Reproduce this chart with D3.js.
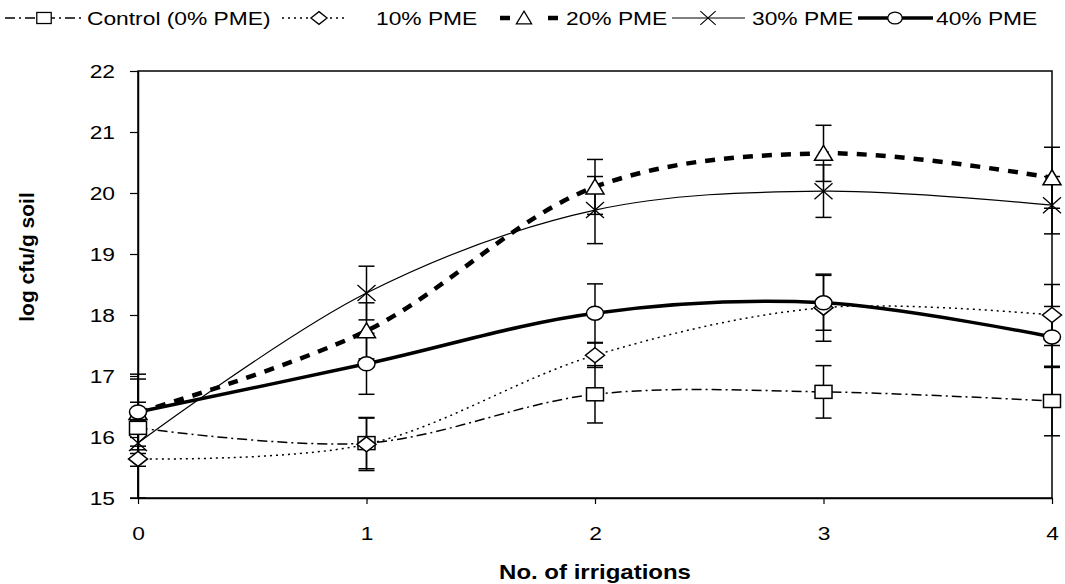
<!DOCTYPE html>
<html>
<head>
<meta charset="utf-8">
<script src="https://cdn.jsdelivr.net/npm/d3@7"></script>
<style>
  body { margin: 0; background: #fff; }
  text { font-family: "Liberation Sans", Arial, sans-serif; fill: #000; }
</style>
</head>
<body>
<svg></svg>
<script>
// x: number of irrigations
// y: log cfu/g soil

const irrigations = [0, 1, 2, 3, 4];
const yTicks = [15, 16, 17, 18, 19, 20, 21, 22];

const control = [16.15, 15.9, 16.7, 16.74, 16.59];
const controlErr = [0.42, 0.42, 0.47, 0.43, 0.57];
const pme10 = [15.64, 15.88, 17.34, 18.12, 18.0];
const pme10Err = [0.64, 0.43, 0.2, 0.55, 0.5];
const pme20 = [16.4, 17.74, 20.1, 20.65, 20.25];
const pme20Err = [0.55, 0.46, 0.45, 0.46, 0.5];
const pme30 = [15.9, 18.36, 19.72, 20.03, 19.8];
const pme30Err = [0.38, 0.44, 0.55, 0.43, 0.47];
const pme40 = [16.41, 17.2, 18.03, 18.2, 17.64];
const pme40Err = [0.62, 0.5, 0.48, 0.45, 0.5];

const seriesNames = ["Control (0% PME)", "10% PME", "20% PME", "30% PME", "40% PME"];

const width = 1065;
const height = 584;
const plotLeft = 138, plotRight = 1052, plotTop = 71, plotBottom = 498;
const sx = 1.2; // the picture is stretched sideways

const styles = [
  { vals: control, err: controlErr, width: 1.5, dash: "10,4,2,4", marker: "square" },
  { vals: pme10, err: pme10Err, width: 1.5, dash: "2,4", marker: "diamond" },
  { vals: pme20, err: pme20Err, width: 4.5, dash: "10,9", marker: "triangle" },
  { vals: pme30, err: pme30Err, width: 1.2, dash: null, marker: "cross" },
  { vals: pme40, err: pme40Err, width: 3.5, dash: null, marker: "circle" }
];

// Scales
const xScale = d3.scaleLinear().domain([0, 4]).range([plotLeft, plotRight]);
const yScale = d3.scaleLinear().domain([15, 22]).range([plotBottom, plotTop]);

const svg = d3.select("svg")
    .attr("width", width)
    .attr("height", height);

// plot frame
svg.append("rect")
    .attr("x", plotLeft).attr("y", plotTop)
    .attr("width", plotRight - plotLeft).attr("height", plotBottom - plotTop)
    .attr("fill", "none").attr("stroke", "#000").attr("stroke-width", 1.5);

// Axes
const xAxis = d3.axisBottom(xScale).tickValues(irrigations).tickFormat(d3.format("d"))
    .tickSize(6).tickSizeOuter(0);
const yAxis = d3.axisLeft(yScale).tickValues(yTicks).tickFormat(d3.format("d"))
    .tickSize(8).tickSizeOuter(0);

const gx = svg.append("g")
    .attr("transform", `translate(0, ${plotBottom})`)
    .call(xAxis);
gx.selectAll("text")
    .attr("font-size", 19)
    .attr("y", 0).attr("dy", 0)
    .attr("transform", `translate(0, 42) scale(${sx}, 1)`);

const gy = svg.append("g")
    .attr("transform", `translate(${plotLeft}, 0)`)
    .call(yAxis);
gy.selectAll("text")
    .attr("font-size", 19)
    .attr("x", 0).attr("dy", "0.35em")
    .attr("transform", `translate(-23, 0) scale(${sx}, 1)`);

svg.selectAll(".domain").attr("stroke", "#000").attr("stroke-width", 1.5);
svg.selectAll(".tick line").attr("stroke", "#000").attr("stroke-width", 1.2);
svg.selectAll(".tick text").attr("font-family", "'Liberation Sans', Arial, sans-serif");

// Axis titles
svg.append("text")
    .text("No. of irrigations")
    .attr("font-size", 20).attr("font-weight", "bold")
    .attr("text-anchor", "middle")
    .attr("transform", `translate(595, 579) scale(${sx}, 1)`);

svg.append("text")
    .text("log cfu/g soil")
    .attr("font-size", 21).attr("font-weight", "bold")
    .attr("text-anchor", "middle")
    .attr("transform", "translate(34, 257) rotate(-90)");

// markers
function drawMarker(g, type, cx, cy, k = 1) {
  const m = g.append("g").attr("transform", `translate(${cx}, ${cy}) scale(${k})`);
  if (type === "square") {
    m.append("rect").attr("x", -8.5).attr("y", -6.5).attr("width", 17).attr("height", 13)
        .attr("fill", "#fff").attr("stroke", "#000").attr("stroke-width", 1.5);
  } else if (type === "diamond") {
    m.append("path").attr("d", "M0,-7.5L9.5,0L0,7.5L-9.5,0Z")
        .attr("fill", "#fff").attr("stroke", "#000").attr("stroke-width", 1.5);
  } else if (type === "triangle") {
    m.append("path").attr("d", "M0,-8L9,7L-9,7Z")
        .attr("fill", "#fff").attr("stroke", "#000").attr("stroke-width", 1.5);
  } else if (type === "cross") {
    m.append("path").attr("d", "M-9,-8L9,8M-9,8L9,-8")
        .attr("fill", "none").attr("stroke", "#000").attr("stroke-width", 1.3);
  } else {
    m.append("ellipse").attr("rx", 8.5).attr("ry", 7)
        .attr("fill", "#fff").attr("stroke", "#000").attr("stroke-width", 1.5);
  }
}

const line = d3.line()
    .x((d, i) => xScale(irrigations[i]))
    .y(d => yScale(d))
    .curve(d3.curveCatmullRom.alpha(0.5));

// error bars
const errG = svg.append("g");
styles.forEach(s => {
  s.vals.forEach((v, i) => {
    const x = xScale(irrigations[i]);
    const y1 = yScale(v - s.err[i]), y2 = yScale(v + s.err[i]);
    errG.append("line").attr("x1", x).attr("x2", x).attr("y1", y1).attr("y2", y2)
        .attr("stroke", "#000").attr("stroke-width", 1.5);
    [y1, y2].forEach(y => errG.append("line")
        .attr("x1", x - 8).attr("x2", x + 8).attr("y1", y).attr("y2", y)
        .attr("stroke", "#000").attr("stroke-width", 1.5));
  });
});

// lines
styles.forEach(s => {
  svg.append("path")
      .datum(s.vals)
      .attr("d", line)
      .attr("fill", "none")
      .attr("stroke", "#000")
      .attr("stroke-width", s.width)
      .attr("stroke-dasharray", s.dash);
});

// points
const ptG = svg.append("g");
styles.forEach(s => {
  s.vals.forEach((v, i) => drawMarker(ptG, s.marker, xScale(irrigations[i]), yScale(v)));
});

// Legend
const legendItems = [
  { x0: 5, x1: 83, mx: 44, tx: 87, dash: "10,4,2,4" },
  { x0: 282, x1: 348, mx: 319, tx: 376, dash: "2,4" },
  { x0: 500, x1: 558, mx: 524, tx: 566, dash: "10,38" },
  { x0: 672, x1: 745, mx: 708, tx: 752, dash: null },
  { x0: 858, x1: 933, mx: 895, tx: 936, dash: null }
];
const legY = 18;
const legG = svg.append("g");
legendItems.forEach((p, i) => {
  const s = styles[i];
  legG.append("line")
      .attr("x1", p.x0).attr("x2", p.x1).attr("y1", legY).attr("y2", legY)
      .attr("stroke", "#000").attr("stroke-width", s.width)
      .attr("stroke-dasharray", p.dash);
  drawMarker(legG, s.marker, p.mx, legY, 0.85);
  legG.append("text")
      .text(seriesNames[i])
      .attr("font-size", 19)
      .attr("dy", "0.35em")
      .attr("transform", `translate(${p.tx}, ${legY}) scale(${sx}, 1)`);
});
</script>
</body>
</html>
